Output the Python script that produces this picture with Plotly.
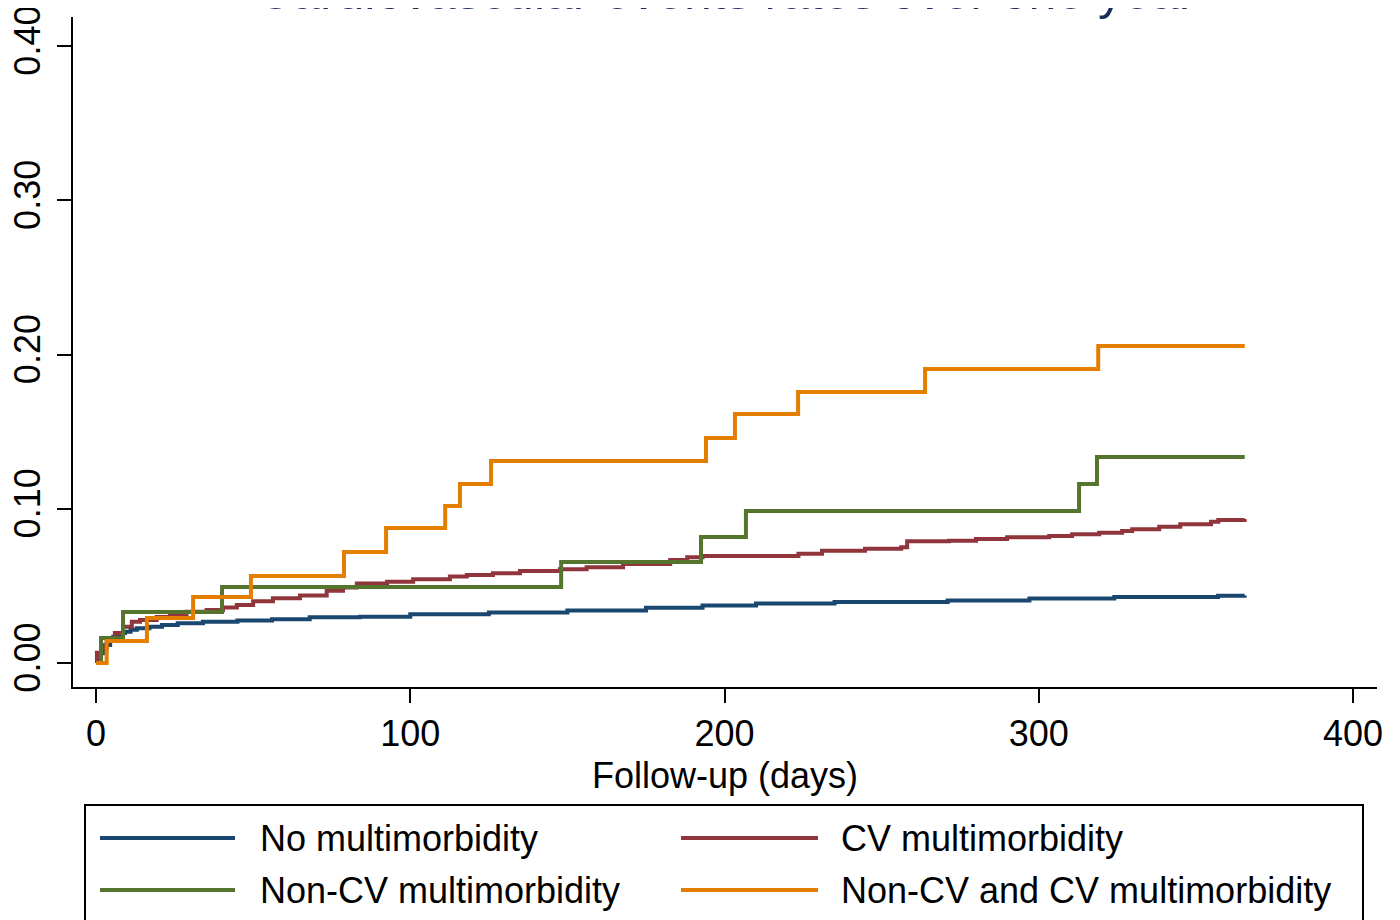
import plotly.graph_objects as go

# ---------------- data ----------------
series_names = ["No multimorbidity", "CV multimorbidity",
                "Non-CV multimorbidity", "Non-CV and CV multimorbidity"]
series_colors = ["#1a476f", "#90353b", "#55752f", "#e37e00"]

no_mm_days = [0, 0.5, 1.3, 2.2, 2.9, 4.5, 5.5, 6.6, 8, 9.2, 11, 13, 17, 21, 26, 34, 45,
              56, 68, 84, 100, 125, 150, 175, 193, 210, 235, 271, 297, 324, 357, 365.5]
no_mm_rate = [0, 0.004, 0.0063, 0.009, 0.0117, 0.0149, 0.017, 0.0182, 0.0195, 0.0203,
              0.0215, 0.0225, 0.0235, 0.0246, 0.0257, 0.0268, 0.0276, 0.0283, 0.0296,
              0.0300, 0.0316, 0.0328, 0.0340, 0.0358, 0.0373, 0.0385, 0.0395, 0.0405,
              0.0418, 0.0428, 0.0436, 0.0438]

cv_mm_days = [0, 0.3, 1.8, 3.4, 6, 8.6, 11.4, 14, 19.3, 23.5, 28.8, 35.2, 40.4, 44.8, 50,
              56.3, 64.9, 73.4, 78.6, 83, 92.6, 100.9, 112.6, 118, 126.3, 134.9, 147.6,
              156.1, 167.7, 182.7, 188.1, 193, 223.5, 231, 244.7, 256.2, 258.1, 271.4,
              280, 289.9, 303.3, 310.6, 319.2, 326.5, 329.7, 338.3, 345, 354.8, 357.1,
              365.5]
cv_mm_rate = [0, 0.0066, 0.0097, 0.0149, 0.0194, 0.0235, 0.0267, 0.0279, 0.0298, 0.0311,
              0.0333, 0.0344, 0.0359, 0.0376, 0.0400, 0.0420, 0.0438, 0.0468, 0.0490,
              0.0515, 0.0527, 0.0543, 0.0560, 0.0571, 0.0582, 0.0597, 0.0608, 0.0621,
              0.0642, 0.0668, 0.0685, 0.0694, 0.0709, 0.0728, 0.0741, 0.0750, 0.0789,
              0.0793, 0.0804, 0.0815, 0.0823, 0.0834, 0.0845, 0.0856, 0.0867, 0.0884,
              0.0899, 0.0916, 0.0927, 0.0933]

noncv_mm_days = [0, 1.6, 8.6, 40.1, 148, 192.5, 206.8, 312.8, 318.5, 365.5]
noncv_mm_rate = [0, 0.0162, 0.0331, 0.0493, 0.0655, 0.0817, 0.0985, 0.1160, 0.1335, 0.1335]

both_mm_days = [0, 3.4, 16.2, 30.9, 49.3, 78.9, 92.3, 111.1, 115.8, 125.7, 194.1, 203.3,
                223.4, 263.8, 318.9, 365.5]
both_mm_rate = [0, 0.0143, 0.0292, 0.0428, 0.0564, 0.0720, 0.0875, 0.1018, 0.1160,
                0.1310, 0.1459, 0.1614, 0.1757, 0.1906, 0.2055, 0.2055]

x_ticks = [0, 100, 200, 300, 400]
y_ticks = [0.0, 0.1, 0.2, 0.3, 0.4]
y_tick_labels = ["0.00", "0.10", "0.20", "0.30", "0.40"]

title_text = "Cardiovascular events rates over one year"
x_title = "Follow-up (days)"

# ---------------- figure ----------------
FONT = "Liberation Sans, Arial, sans-serif"
W, H = 1400, 920
OFF = 8  # page body margin of the html page
# plot area in page pixels
PL, PR, PT, PB = 73, 1377, 17, 687
ML, MT = PL - OFF, PT - OFF
MR, MB = W - (PR - OFF), H - (PB - OFF)
PW, PH = PR - PL, PB - PT


def px_to_paper_x(px):
    return (px - PL) / PW


def px_to_paper_y(py):
    return (PB - py) / PH


fig = go.Figure()
all_days = [no_mm_days, cv_mm_days, noncv_mm_days, both_mm_days]
all_rates = [no_mm_rate, cv_mm_rate, noncv_mm_rate, both_mm_rate]
for name, color, xs, ys in zip(series_names, series_colors, all_days, all_rates):
    fig.add_trace(go.Scatter(x=xs, y=ys, mode="lines", name=name,
                             line=dict(color=color, width=4, shape="hv"),
                             showlegend=False))

fig.update_layout(
    width=W, height=H,
    margin=dict(l=ML, r=MR, t=MT, b=MB, autoexpand=False),
    paper_bgcolor="white", plot_bgcolor="white",
    font=dict(family=FONT, size=36, color="black"),
)
fig.update_xaxes(range=[-7.32, 407.6], tickvals=x_ticks, ticks="outside", ticklen=14,
                 tickwidth=2, tickcolor="black", showline=True, linecolor="black",
                 linewidth=2, showgrid=False, zeroline=False, automargin=False,
                 ticklabeloverflow="allow",
                 tickfont=dict(size=36, color="black"),
                 title=dict(text=x_title, font=dict(size=36, color="black"), standoff=10))
fig.update_yaxes(range=[-0.01556, 0.4188], tickvals=y_ticks, ticktext=y_tick_labels,
                 ticks="outside", ticklen=14, tickwidth=2, tickcolor="black",
                 showline=True, linecolor="black", linewidth=2, showgrid=False,
                 zeroline=False, tickangle=-90, tickfont=dict(size=36, color="black"),
                 automargin=False, ticklabelstandoff=3, ticklabeloverflow="allow")

# title (partly cut at the top of the page, as in the reference)
fig.add_annotation(text=title_text, xref="paper", yref="paper", x=0.5,
                   y=px_to_paper_y(22), xanchor="center", yanchor="bottom",
                   showarrow=False, font=dict(family=FONT, size=50, color="#1c2c5a"))

# legend (drawn as a framed key below the plot)
fig.add_shape(type="rect", xref="paper", yref="paper",
              x0=px_to_paper_x(85), x1=px_to_paper_x(1363),
              y0=px_to_paper_y(805), y1=px_to_paper_y(950),
              line=dict(color="black", width=2), fillcolor="white", layer="below")
legend_pos = [(100, 235, 258, 838), (681, 818, 839, 838),
              (100, 235, 258, 890), (681, 818, 839, 890)]
legend_order = [0, 1, 2, 3]
for (lx0, lx1, tx, ly), idx in zip(legend_pos, legend_order):
    fig.add_shape(type="line", xref="paper", yref="paper",
                  x0=px_to_paper_x(lx0), x1=px_to_paper_x(lx1),
                  y0=px_to_paper_y(ly), y1=px_to_paper_y(ly),
                  line=dict(color=series_colors[idx], width=4))
    fig.add_annotation(text=series_names[idx], xref="paper", yref="paper",
                       x=px_to_paper_x(tx), y=px_to_paper_y(ly), xanchor="left",
                       yanchor="middle", showarrow=False,
                       font=dict(family=FONT, size=36, color="black"))

fig.write_html("out.html")
